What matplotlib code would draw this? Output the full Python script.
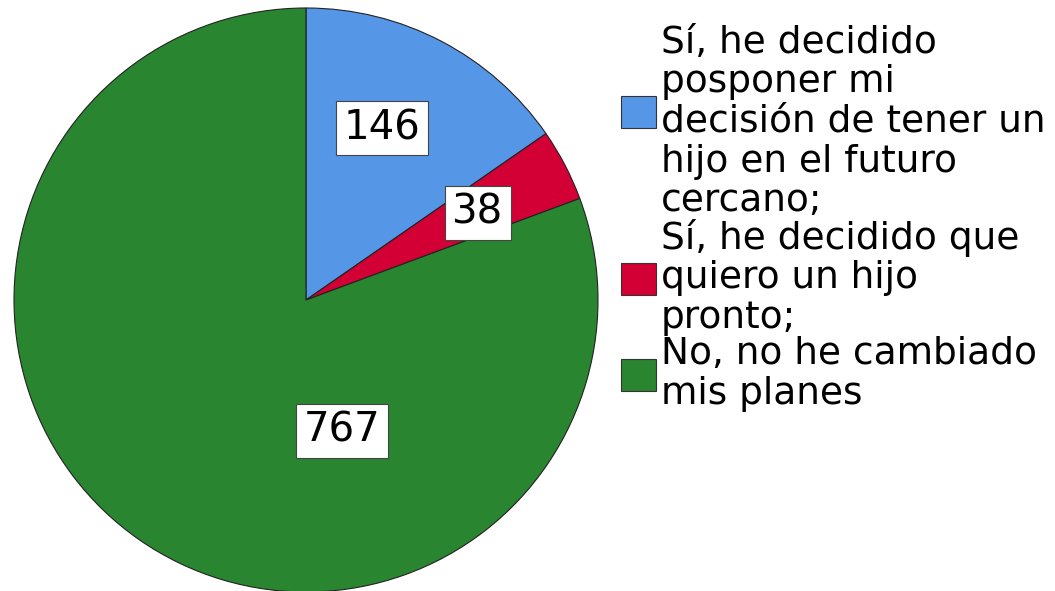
import matplotlib.pyplot as plt
from matplotlib.patches import Patch

categories = [
    "Sí, he decidido\nposponer mi\ndecisión de tener un\nhijo en el futuro\ncercano;",
    "Sí, he decidido que\nquiero un hijo\npronto;",
    "No, no he cambiado\nmis planes",
]
counts = [146, 38, 767]
colors = ["#5596e6", "#d20034", "#2a8530"]

W, H = 1055, 591
fig = plt.figure(figsize=(W / 100, H / 100), dpi=100)
ax = fig.add_axes([0, 0, 1, 1])

cx, cy, r = 306, 291, 292
wedges, _ = ax.pie(counts, colors=colors, startangle=90, counterclock=False,
                   center=(cx, cy), radius=r, frame=True,
                   wedgeprops=dict(edgecolor="#222222", linewidth=0.8))
ax.set_xlim(0, W)
ax.set_ylim(0, H)
ax.set_aspect("equal")
ax.axis("off")

# value boxes, offsets from the pie centre
label_off = [(76, 172), (172, 87), (36, -131)]
for n, (dx, dy) in zip(counts, label_off):
    ax.text(cx + dx, cy + dy, str(n), ha="center", va="center", fontsize=29,
            bbox=dict(boxstyle="square,pad=0.18", fc="white", ec="#444444", lw=0.8))

handles = [Patch(facecolor=c, edgecolor="#333333", linewidth=0.8) for c in colors]
leg = ax.legend(handles, categories, loc="upper left", bbox_to_anchor=(621 / W, 1 - 25 / H),
                frameon=False, fontsize=27, handlelength=0.93, handleheight=0.93,
                handletextpad=0.13, labelspacing=0.0, borderpad=0, borderaxespad=0)
for t in leg.get_texts():
    t.set_linespacing(1.125)
# first swatch sits a bit above the middle of its five lines
p = leg.get_patches()[0]
p.set_y(p.get_y() + 8)

fig.savefig("out.png", dpi=100)
